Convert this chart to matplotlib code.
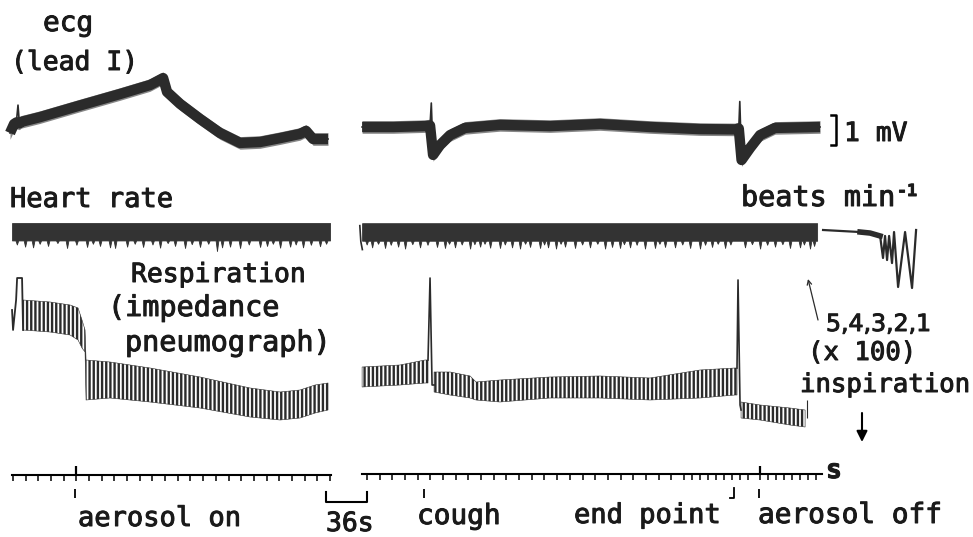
import numpy as np
import matplotlib.pyplot as plt
import matplotlib.patheffects as pe

plt.rcParams['font.family'] = ['DejaVu Sans Mono', 'DejaVu Sans']
plt.rcParams['hatch.linewidth'] = 1.7

# time along the chart paper, seconds (one marker tick = 10 s)
T_LIM = (-10.3, 757.4)

# ---- ecg (lead I), mV ----
ecg_left_t = [-2.4, 0.8, 2.6, 3.9, 5.0, 6.3, 21.3, 51.3, 84.4, 108.1, 118.4, 121.5, 131.8,
              147.5, 163.3, 179.1, 194.9, 210.7, 226.4, 231.2, 236.7, 248.5]
ecg_left_mv = [0.40, 0.70, 0.75, 1.33, 0.72, 0.77, 0.93, 1.30, 1.70, 2.00, 2.23, 1.77, 1.37,
               0.87, 0.40, 0.07, 0.10, 0.23, 0.37, 0.47, 0.20, 0.20]
ecg_left_spike = [3]

ecg_right_t = [275.4, 300.0, 325.1, 329.0, 330.0, 331.4, 336.9, 344.8, 356.6, 384.2, 423.7,
               463.1, 502.6, 542.0, 569.7, 572.6, 573.4, 574.8, 581.5, 589.4, 601.2, 636.7]
ecg_right_mv = [0.60, 0.60, 0.63, 0.65, 1.40, -0.33, 0.00, 0.33, 0.57, 0.67, 0.63,
                0.70, 0.60, 0.53, 0.52, 0.55, 1.45, -0.50, -0.10, 0.33, 0.57, 0.60]
ecg_right_spike = [4, 16]

# ---- heart rate, beats/min ----
hr_left_t = [-0.8, 250.1]
hr_left_hi = 548
hr_left_lo = 428
hr_left_dip_t = [3.0, 9.5, 15.8, 21.0, 27.6, 35.0, 42.6, 50.0, 58.4, 63.0, 68.6, 76.5, 80.5,
                 90.0, 96.0, 102.6, 110.0, 116.0, 122.0, 127.8, 135.7, 141.0, 147.5, 154.0,
                 160.9, 164.9, 171.2, 179.1, 186.0, 194.9, 200.4, 205.0, 210.7, 218.6, 223.0,
                 228.8, 235.0, 242.2, 247.0]
hr_left_dip = [400, 385, 380, 405, 390, 410, 376, 398, 383, 405, 390, 380, 376,
               385, 405, 383, 400, 378, 410, 390, 376, 402, 383, 405,
               355, 380, 385, 376, 400, 383, 390, 405, 378, 385, 400,
               380, 398, 388, 405]

hr_right_t = [275.4, 634.4]
hr_right_hi = 547
hr_right_lo = 426
hr_right_dip_t = [279.0, 283.3, 288.0, 293.5, 298.0, 303.8, 309.3, 315.0, 321.1, 327.0, 334.5,
                  340.8, 344.0, 348.7, 354.0, 360.6, 364.0, 368.5, 372.0, 376.4, 384.2, 388.0,
                  393.7, 400.0, 404.0, 407.9, 415.8, 419.0, 422.1, 428.4, 432.0, 435.5, 443.4,
                  449.0, 455.2, 461.0, 467.1, 472.6, 478.9, 482.0, 486.8, 492.0, 498.6, 506.5,
                  510.0, 514.4, 522.3, 528.0, 534.2, 542.0, 546.0, 551.5, 556.0, 561.8, 566.0,
                  577.5, 583.0, 589.4, 595.0, 601.2, 607.0, 613.0, 620.9, 624.0, 628.8, 632.0]
hr_right_dip = [400, 380, 405, 376, 398, 385, 372, 402, 380, 398, 383,
                376, 405, 380, 400, 372, 402, 385, 405, 378, 376, 400,
                380, 372, 405, 383, 376, 400, 380, 372, 405, 385, 376,
                400, 380, 405, 372, 383, 376, 402, 380, 398, 372, 376,
                405, 383, 380, 400, 376, 372, 398, 383, 405, 376, 400,
                380, 402, 372, 398, 385, 402, 376, 380, 400, 372, 390]
hr_hook_t = [273.6, 274.4, 275.6]
hr_hook = [530, 420, 365]

# calibration 5,4,3,2,1 (x 100)
hr_cal_t = [639.1, 668.3, 676.2, 684.1, 686.4, 688.0, 689.6, 691.2, 693.5, 695.1,
            698.3, 703.8, 709.3, 712.5]
hr_cal = [500, 486, 479, 459, 307, 459, 293, 459, 272, 486, 107, 486, 100, 500]

# ---- respiration (impedance pneumograph), arbitrary units ----
resp_pulse_t = [-0.8, 0.0, 2.4, 3.2, 7.1, 7.9]
resp_pulse = [13.0, 11.0, 14.0, 16.2, 16.2, 11.0]

resp_left_t = [7.9, 29.2, 45.0, 51.3, 54.4, 56.8, 57.6, 76.5, 108.1, 147.5, 187.0, 210.7,
               226.4, 238.3, 248.5]
resp_left_hi = [14.0, 13.8, 13.5, 13.2, 12.0, 11.0, 8.0, 7.8, 7.2, 6.3, 5.2, 4.8, 5.0, 5.5, 5.7]
resp_left_lo = [11.0, 10.8, 10.5, 10.0, 9.2, 8.8, 4.0, 4.2, 3.8, 3.2, 2.3, 2.0, 2.2, 2.7, 3.0]

resp_a_t = [275.4, 305.3, 325.1, 327.4]
resp_a_hi = [7.3, 7.5, 8.0, 8.0]
resp_a_lo = [5.3, 5.5, 5.7, 5.7]
resp_b_t = [332.2, 344.8, 360.6, 365.3, 384.2, 423.7, 463.1, 502.6, 542.0, 569.7, 571.2]
resp_b_hi = [6.8, 6.8, 6.4, 5.8, 6.0, 6.3, 6.4, 6.2, 7.0, 7.2, 7.2]
resp_b_lo = [4.8, 4.5, 4.2, 4.0, 3.8, 4.2, 4.2, 4.0, 4.2, 4.5, 4.5]
resp_c_t = [574.4, 589.4, 613.0, 624.9]
resp_c_hi = [3.8, 3.5, 3.2, 3.0]
resp_c_lo = [2.2, 2.0, 1.5, 1.3]

cough_t = [327.4, 329.0, 330.6, 332.2]
cough_v = [8.0, 16.2, 5.5, 5.5]
endpt_t = [571.2, 572.0, 573.6, 574.4]
endpt_v = [7.2, 16.0, 3.5, 3.0]

# ---- time marker ----
mark_left = list(range(0, 260, 10))
mark_right = [279.3, 289.3, 299.3, 309.3, 319.3, 329.3, 339.3, 349.3, 359.3, 369.3, 379.3,
              389.3, 399.3, 409.3, 419.3, 429.3, 439.3, 449.3, 459.3, 469.3, 479.3, 489.3,
              499.3, 509.3, 519.3, 529.3, 535.7, 542.0, 548.4, 554.7, 561.0, 567.3, 573.6,
              579.9, 589.4, 595.7, 602.0, 608.3, 614.6, 620.9, 627.3, 633.6]
mark_major = [50.0, 589.4]
event_t = [48.9, 324.3, 588.6]
endpoint_mark_t = 569.0

ink = '#2b2b2b'

fig = plt.figure(figsize=(9.73, 5.37), dpi=100)


def layer(ylim):
    ax = fig.add_axes([0, 0, 1, 1])
    ax.set_xlim(*T_LIM)
    ax.set_ylim(*ylim)
    ax.axis('off')
    ax.patch.set_alpha(0)
    return ax


# ecg: 30 px per mV, 0 mV at 145 px from top
ax_ecg = layer(((145 - 537) / 30, 145 / 30))
for t, v, sp in [(ecg_left_t, ecg_left_mv, ecg_left_spike),
                 (ecg_right_t, ecg_right_mv, ecg_right_spike)]:
    t = np.array(t)
    v = np.array(v)
    ax_ecg.plot(t, v, color=ink, lw=1.2)
    tb, vb = np.delete(t, sp), np.delete(v, sp)
    ax_ecg.fill_between(tb, vb - 0.21, vb + 0.21, color='#555555', alpha=0.7, lw=0)
    ax_ecg.plot(tb, vb, color=ink, lw=7.5, solid_joinstyle='round', solid_capstyle='butt')
# 1 mV calibration bracket
ax_ecg.plot([645.0, 649.3, 649.3, 645.0], [1, 1, 0, 0], color='black', lw=1.8)

# heart rate: 0.145 px per beat/min, 500 at 230 px
ax_hr = layer((500 - (537 - 230) / 0.145, 500 + 230 / 0.145))
for t, hi, lo, dt, dv in [(hr_left_t, hr_left_hi, hr_left_lo, hr_left_dip_t, hr_left_dip),
                          (hr_right_t, hr_right_hi, hr_right_lo, hr_right_dip_t, hr_right_dip)]:
    # ragged lower edge: each beat-to-beat dip pulls the pen down
    et = [t[0]]
    ev = [lo]
    for a, d in zip(dt, dv):
        et += [a - 1.1, a, a + 1.1]
        ev += [lo, d, lo]
    et.append(t[1])
    ev.append(lo)
    ax_hr.fill_between(et, hi, ev, color='#333333', lw=0.6, edgecolor='#333333')
ax_hr.plot(hr_hook_t, hr_hook, color=ink, lw=1.2)
ax_hr.plot(hr_cal_t, hr_cal, color=ink, lw=1.6)
ax_hr.plot(hr_cal_t[1:4], hr_cal[1:4], color=ink, lw=4)

# respiration: 10 px per unit, 0 at 440 px
ax_rs = layer(((440 - 537) / 10, 440 / 10))
for t, hi, lo in [(resp_left_t, resp_left_hi, resp_left_lo),
                  (resp_a_t, resp_a_hi, resp_a_lo),
                  (resp_b_t, resp_b_hi, resp_b_lo),
                  (resp_c_t, resp_c_hi, resp_c_lo)]:
    ax_rs.fill_between(t, hi, lo, facecolor='none', edgecolor=ink, hatch='||||', lw=0.4)
ax_rs.plot(resp_pulse_t, resp_pulse, color=ink, lw=1.3)
ax_rs.plot(cough_t, cough_v, color=ink, lw=1.2)
ax_rs.plot(endpt_t, endpt_v, color=ink, lw=1.2)
ax_rs.vlines([626.5], 2.2, 4.0, color=ink, lw=0.8)

# time marker and event pen (vertical axis in paper pixels)
ax_tm = layer((537, 0))
ax_tm.plot([-1.0, 251.0], [475, 475], color='black', lw=1.5)
ax_tm.plot([275.4, 638.3], [474, 474], color='black', lw=1.5)
ax_tm.vlines(mark_left, 475, 481, color='black', lw=1.1)
ax_tm.vlines(mark_right, 474, 480, color='black', lw=1.1)
ax_tm.vlines(mark_major, 466, 475, color='black', lw=1.6)
ax_tm.vlines(event_t, 489, 498, color='black', lw=1.3)
ax_tm.plot([endpoint_mark_t, endpoint_mark_t, endpoint_mark_t - 3],
           [488, 498, 498], color='black', lw=1.3)
ax_tm.plot([247.0, 247.0, 279.3, 279.3], [492, 502, 502, 492], color='black', lw=1.5)

# labels, placed in paper pixels
ax_txt = fig.add_axes([0, 0, 1, 1])
ax_txt.set_xlim(0, 973)
ax_txt.set_ylim(537, 0)
ax_txt.axis('off')
ax_txt.patch.set_alpha(0)

thick = [pe.withStroke(linewidth=0.7, foreground='#1a1a1a')]


def label(x, y, s, size=19, **kw):
    ax_txt.text(x, y, s, fontsize=size, ha='left', va='baseline', color='#1a1a1a',
                path_effects=thick, **kw)


label(43, 31, 'ecg', 20)
label(11, 70, '(lead I)', 19)
label(10, 207, 'Heart rate', 19.5)
label(131, 282, 'Respiration', 19)
label(108, 316, '(impedance', 20.5)
label(125, 351, 'pneumograph)', 20.5)
label(844, 141, '1 mV', 19)
label(741, 206, 'beats min', 20.5)
label(897, 196, '-1', 12, fontweight='bold')
label(826, 331, '5,4,3,2,1', 17, family=['Liberation Sans Narrow', 'DejaVu Sans'])
label(808, 360, '(x 100)', 18.5)
label(800, 392, 'inspiration', 18.5)
label(826, 478, 's', 19, fontweight='bold')
label(78, 526, 'aerosol on', 19.5)
label(326, 531, '36s', 19)
label(417, 524, 'cough', 20)
label(574, 523, 'end point', 19.5)
label(758, 523, 'aerosol off', 20)

ax_txt.annotate('', xy=(808, 279), xytext=(818, 320),
                arrowprops=dict(arrowstyle='->', color=ink, lw=0.9, mutation_scale=8,
                                shrinkA=0, shrinkB=0))
ax_txt.annotate('', xy=(862, 442), xytext=(862, 413),
                arrowprops=dict(arrowstyle='-|>', color='black', lw=1.5, mutation_scale=16,
                                shrinkA=0, shrinkB=0))

fig.savefig('out.png', dpi=100, facecolor='white')
